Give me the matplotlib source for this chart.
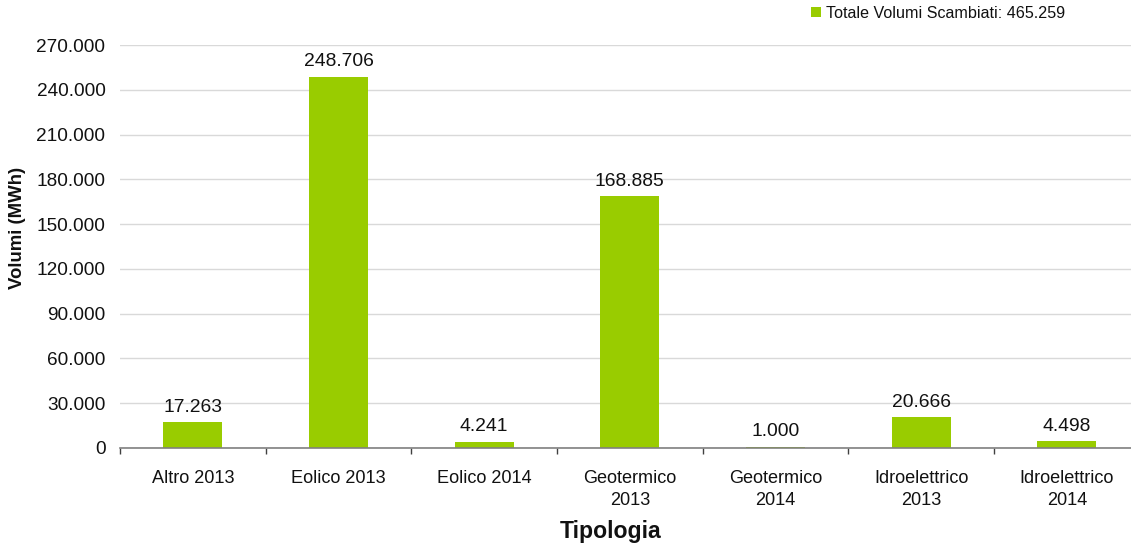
import matplotlib
matplotlib.use("Agg")
import matplotlib.pyplot as plt
from matplotlib.ticker import FuncFormatter
import numpy as np

categories = ["Altro 2013", "Eolico 2013", "Eolico 2014", "Geotermico\n2013",
              "Geotermico\n2014", "Idroelettrico\n2013", "Idroelettrico\n2014"]
volumi = [17263, 248706, 4241, 168885, 1000, 20666, 4498]
y_ticks = [0, 30000, 60000, 90000, 120000, 150000, 180000, 210000, 240000, 270000]

BAR = "#99cc00"
TXT = "#111111"
plt.rcParams["font.family"] = ["Liberation Sans", "DejaVu Sans"]


def it_fmt(v):
    return f"{int(round(v)):,}".replace(",", ".")


W, H = 1131, 543
fig = plt.figure(figsize=(W / 100, H / 100), dpi=100)
ax = fig.add_axes([120 / W, (H - 448) / H, 1019.7 / W, (448 - 45) / H])

x = np.arange(len(categories))
totale = sum(volumi)
bars = ax.bar(x, volumi, width=0.405, color=BAR, zorder=3,
              label=f"Totale Volumi Scambiati: {it_fmt(totale)}")

for xi, v in zip(x, volumi):
    ax.annotate(it_fmt(v), (xi, v), xytext=(0, 7.5), textcoords="offset points",
                ha="center", va="baseline", fontsize=13.9, color=TXT)

ax.set_xlim(-0.5, len(categories) - 0.5)
ax.set_ylim(0, 270000)
ax.set_yticks(y_ticks)
ax.yaxis.set_major_formatter(FuncFormatter(lambda v, p: it_fmt(v)))
ax.tick_params(axis="y", length=0, pad=10.5, labelsize=13.7, labelcolor=TXT)
ax.grid(axis="y", color="#d9d9d9", linewidth=1, zorder=0)

ax.set_xticks(x)
ax.set_xticklabels(categories, fontsize=13.1, color=TXT, linespacing=1.4)
ax.tick_params(axis="x", which="major", length=0, pad=16)
ax.set_xticks(np.arange(-0.5, len(categories), 1.0), minor=True)
ax.tick_params(axis="x", which="minor", length=4.5, width=1, color="#404040")

for s in ["left", "right", "top"]:
    ax.spines[s].set_visible(False)
ax.spines["bottom"].set_color("#808080")
ax.spines["bottom"].set_linewidth(1.2)
ax.spines["bottom"].set_zorder(4)

fig.text(611 / W, 1 - 531.5 / H, "Tipologia", ha="center", va="center",
         fontsize=16.6, fontweight="bold", color=TXT)
fig.text(18 / W, 1 - 228 / H, "Volumi (MWh)", ha="center", va="center",
         rotation=90, fontsize=13.4, fontweight="bold", color=TXT)

fig.legend(handles=[bars], loc="upper left", bbox_to_anchor=(811 / W, 1 - 6 / H),
           frameon=False, fontsize=11.6, handlelength=0.6, handleheight=0.6,
           handletextpad=0.35, borderpad=0, borderaxespad=0, labelcolor=TXT)

fig.savefig("out.png", dpi=100)
